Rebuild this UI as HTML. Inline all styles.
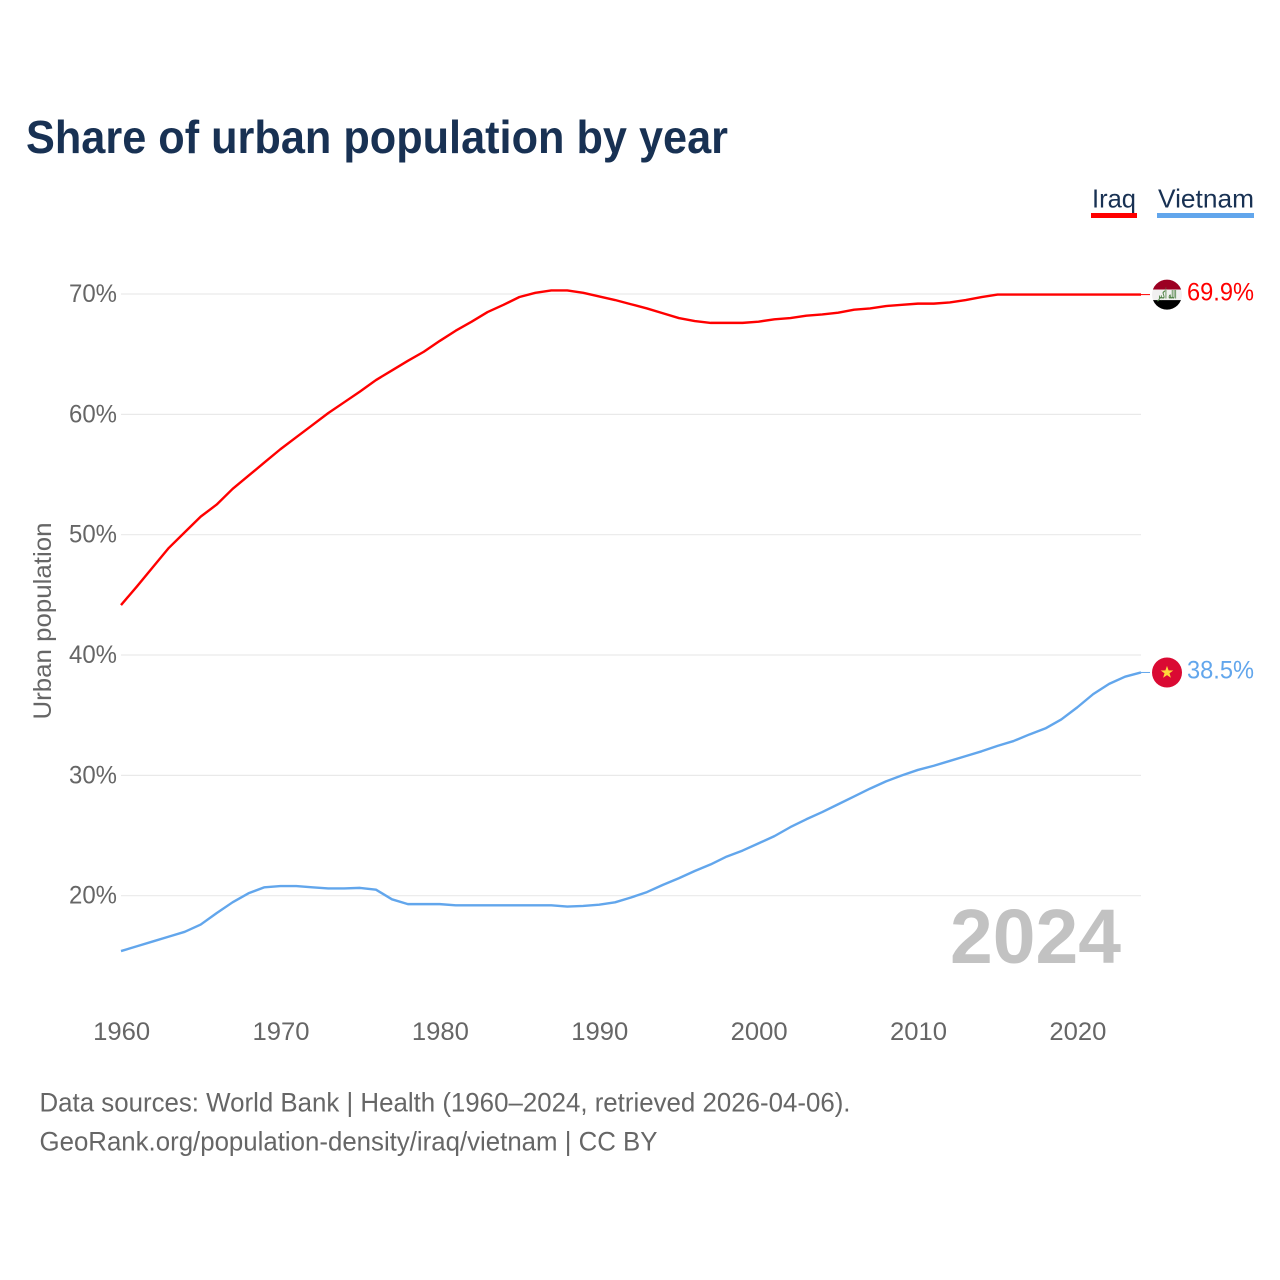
<!DOCTYPE html>
<html lang="en">
<head>
<meta charset="utf-8">
<title>Share of urban population by year</title>
<style>
html,body{margin:0;padding:0;background:#fff;}
svg{display:block;}
text{font-family:"Liberation Sans",sans-serif;}
</style>
</head>
<body>
<svg id="chart" xmlns="http://www.w3.org/2000/svg" width="1280" height="1280" viewBox="0 0 1280 1280">
  <rect x="0" y="0" width="1280" height="1280" fill="#ffffff"/>
  <text x="26" y="153" font-size="46" font-weight="700" fill="#183153" textLength="702" lengthAdjust="spacingAndGlyphs">Share of urban population by year</text>

  <g>
    <text x="1092" y="207.5" font-size="26" fill="#183153" textLength="44" lengthAdjust="spacingAndGlyphs">Iraq</text>
    <rect x="1091" y="213" width="46" height="5" fill="#ff0000"/>
  </g>
  <g>
    <text x="1158" y="207.5" font-size="26" fill="#183153" textLength="96" lengthAdjust="spacingAndGlyphs">Vietnam</text>
    <rect x="1157" y="213" width="97" height="5" fill="#62a6ec"/>
  </g>

  <text transform="translate(51 719.5) rotate(-90)" font-size="25" fill="#666666" textLength="197" lengthAdjust="spacingAndGlyphs">Urban population</text>

  <g id="grid"></g>
  <g id="yticks"></g>
  <g id="xticks"></g>

  <text x="950" y="963" font-size="77" font-weight="700" fill="#c2c2c2" textLength="171" lengthAdjust="spacingAndGlyphs">2024</text>

  <g id="series"></g>

  <g id="flag-iraq">
    <clipPath id="iraq-clip"><circle cx="0" cy="0" r="15"/></clipPath>
    <g clip-path="url(#iraq-clip)">
      <rect x="-16" y="-16" width="32" height="11" fill="#9c0022"/>
      <rect x="-16" y="-5" width="32" height="10.5" fill="#f0f0f0"/>
      <rect x="-16" y="5.5" width="32" height="11" fill="#000000"/>
      <text x="0" y="4" font-size="11" font-weight="700" text-anchor="middle" fill="#4f8246" style="font-family:'DejaVu Sans',sans-serif" textLength="19" lengthAdjust="spacingAndGlyphs">الله أكبر</text>
    </g>
  </g>
  <g id="flag-vietnam">
    <circle cx="0" cy="0" r="15" fill="#da0a33"/>
    <polygon fill="#ffd83c" points="0,-6.6 1.6,-2.1 6.3,-2 2.5,0.8 3.9,5.3 0,2.6 -3.9,5.3 -2.5,0.8 -6.3,-2 -1.6,-2.1"/>
  </g>
  <g id="endlabels"></g>

  <text x="39.5" y="1111.5" font-size="27" fill="#666666" textLength="811" lengthAdjust="spacingAndGlyphs">Data sources: World Bank | Health (1960–2024, retrieved 2026-04-06).</text>
  <text x="39.5" y="1150.5" font-size="27" fill="#666666" textLength="618" lengthAdjust="spacingAndGlyphs">GeoRank.org/population-density/iraq/vietnam | CC BY</text>
</svg>
<script>
const startYear = 1960;
const iraqValues = [
  44.15,45.7,47.3,48.9,50.2,51.5,52.5,53.8,54.9,56.0,
  57.1,58.1,59.1,60.1,61.0,61.9,62.85,63.65,64.45,65.2,
  66.1,66.95,67.7,68.5,69.1,69.75,70.1,70.3,70.3,70.1,
  69.8,69.5,69.15,68.8,68.4,68.0,67.75,67.6,67.6,67.6,
  67.7,67.9,68.0,68.2,68.3,68.45,68.7,68.8,69.0,69.1,
  69.2,69.2,69.3,69.5,69.75,69.95,69.95,69.95,69.95,69.95,
  69.95,69.95,69.95,69.95,69.95
];
const vietnamValues = [
  15.4,15.8,16.2,16.6,17.0,17.6,18.55,19.45,20.2,20.7,
  20.8,20.8,20.7,20.6,20.6,20.65,20.5,19.7,19.3,19.3,
  19.3,19.2,19.2,19.2,19.2,19.2,19.2,19.2,19.1,19.15,
  19.25,19.45,19.85,20.3,20.9,21.45,22.05,22.6,23.25,23.75,
  24.35,24.95,25.7,26.35,26.95,27.6,28.25,28.9,29.5,30.0,
  30.45,30.8,31.2,31.6,32.0,32.45,32.85,33.4,33.9,34.65,
  35.65,36.75,37.6,38.2,38.55
];
const yTickValues = [20,30,40,50,60,70];
const yTickLabels = ["20%","30%","40%","50%","60%","70%"];
const xTickValues = [1960,1970,1980,1990,2000,2010,2020];
const xTickLabels = ["1960","1970","1980","1990","2000","2010","2020"];
const iraqEndLabel = "69.9%";
const vietnamEndLabel = "38.5%";

const NS = "http://www.w3.org/2000/svg";
function xScale(year){ return 121 + (year - 1960) * (1020 / 64); }
function yScale(v){ return 294 + (70 - v) * 12.034; }
function make(tag, parentId, attrs, content){
  const el = document.createElementNS(NS, tag);
  for (const k in attrs) el.setAttribute(k, attrs[k]);
  if (content !== undefined) el.textContent = content;
  document.getElementById(parentId).appendChild(el);
  return el;
}

yTickValues.forEach(function(v, i){
  const line = make("line", "grid", {x1:121, x2:1141, y1:yScale(v), y2:yScale(v), stroke:"#e9e9e9", "stroke-width":1.2});
  
  
  const label = make("text", "yticks", {x:69, y:yScale(v)+8, "font-size":25, fill:"#666666", textLength:48, lengthAdjust:"spacingAndGlyphs"}, yTickLabels[i]);
  
  
});

xTickValues.forEach(function(year, i){
  const label = make("text", "xticks", {x:xScale(year)+0.7, y:1040, "font-size":25, fill:"#666666", "text-anchor":"middle", textLength:57, lengthAdjust:"spacingAndGlyphs"}, xTickLabels[i]);
  
  
});

function linePoints(values){
  return values.map(function(v, i){ return xScale(startYear + i).toFixed(2) + "," + yScale(v).toFixed(2); }).join(" ");
}

const iraqLine = make("polyline", "series", {points:linePoints(iraqValues), fill:"none", stroke:"#ff0000", "stroke-width":2.4, "stroke-linejoin":"round"});


const vietnamLine = make("polyline", "series", {points:linePoints(vietnamValues), fill:"none", stroke:"#62a6ec", "stroke-width":2.4, "stroke-linejoin":"round"});



const iraqEndY = yScale(iraqValues[iraqValues.length - 1]);
const vietnamEndY = yScale(vietnamValues[vietnamValues.length - 1]);

const iraqConnector = make("line", "series", {x1:1141, x2:1150, y1:iraqEndY, y2:iraqEndY, stroke:"#ff0000", "stroke-width":1});


const vietnamConnector = make("line", "series", {x1:1141, x2:1150, y1:vietnamEndY, y2:vietnamEndY, stroke:"#62a6ec", "stroke-width":1});



document.getElementById("flag-iraq").setAttribute("transform", "translate(1167 " + iraqEndY + ")");
document.getElementById("flag-vietnam").setAttribute("transform", "translate(1167 " + vietnamEndY + ")");

const iraqLabel = make("text", "endlabels", {x:1187, y:iraqEndY+6, "font-size":25, fill:"#ff0000", textLength:67, lengthAdjust:"spacingAndGlyphs"}, iraqEndLabel);


const vietnamLabel = make("text", "endlabels", {x:1187, y:vietnamEndY+6, "font-size":25, fill:"#62a6ec", textLength:67, lengthAdjust:"spacingAndGlyphs"}, vietnamEndLabel);


</script>
</body>
</html>
